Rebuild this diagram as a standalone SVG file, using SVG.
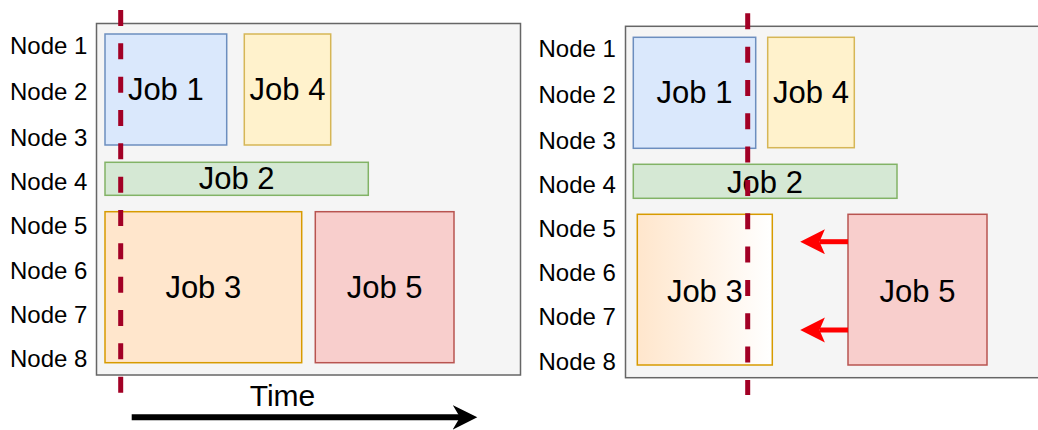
<svg xmlns="http://www.w3.org/2000/svg" width="1038" height="430" viewBox="0 0 1038 430">
<style>
  text { font-family: "Liberation Sans", Arial, sans-serif; fill: #000; }
  .node { font-size: 24px; }
  .job { font-size: 31px; text-anchor: middle; }
  .time { font-size: 30px; text-anchor: middle; }
  .panel { fill: #f5f5f5; stroke: #666666; stroke-width: 1.5; }
  .blue { fill: #dae8fc; stroke: #6c8ebf; stroke-width: 1.5; }
  .yellow { fill: #fff2cc; stroke: #d6b656; stroke-width: 1.5; }
  .green { fill: #d5e8d4; stroke: #82b366; stroke-width: 1.5; }
  .orange { fill: #ffe6cc; stroke: #d79b00; stroke-width: 1.5; }
  .orangegrad { fill: url(#g3); stroke: #d79b00; stroke-width: 1.5; }
  .red { fill: #f8cecc; stroke: #b85450; stroke-width: 1.5; }
  .now { stroke: #a20025; stroke-width: 5; stroke-dasharray: 16 17.33; fill: none; }
  .redarrow { stroke: #ff0000; stroke-width: 5; fill: none; marker-end: url(#headRed); }
  .timearrow { stroke: #000; stroke-width: 6; fill: none; marker-end: url(#headBlack); }
</style>
<defs>
  <linearGradient id="g3" x1="0" y1="0" x2="1" y2="0">
    <stop offset="0" stop-color="#ffe6cc"/>
    <stop offset="1" stop-color="#ffffff"/>
  </linearGradient>
  <marker id="headRed" markerUnits="userSpaceOnUse" markerWidth="26" markerHeight="26" viewBox="0 0 26 26" refX="5.4" refY="12.5" orient="auto">
    <path d="M0,0 L24.7,12.5 L0,25 L5.4,12.5 Z" fill="#ff0000"/>
  </marker>
  <marker id="headBlack" markerUnits="userSpaceOnUse" markerWidth="26" markerHeight="26" viewBox="0 0 26 26" refX="7.3" refY="12.3" orient="auto">
    <path d="M0,0 L24.6,12.3 L0,24.6 L7.3,12.3 Z" fill="#000000"/>
  </marker>
</defs>

<!-- Left panel -->
<g id="left-panel">
  <rect class="panel" x="96.5" y="23.5" width="424" height="351.5"/>
</g>
<g id="left-labels">
  <text class="node" x="10" y="54">Node 1</text>
  <text class="node" x="10" y="100">Node 2</text>
  <text class="node" x="10" y="145.5">Node 3</text>
  <text class="node" x="10" y="189.5">Node 4</text>
  <text class="node" x="10" y="233.5">Node 5</text>
  <text class="node" x="10" y="278.5">Node 6</text>
  <text class="node" x="10" y="322.5">Node 7</text>
  <text class="node" x="10" y="367">Node 8</text>
</g>
<g id="left-job1"><rect class="blue" x="105" y="34" width="121.7" height="111"/><text class="job" x="165.8" y="99.5">Job 1</text></g>
<g id="left-job4"><rect class="yellow" x="244.3" y="34" width="86.4" height="111"/><text class="job" x="287.5" y="99.5">Job 4</text></g>
<g id="left-job2"><rect class="green" x="105" y="162.3" width="263.3" height="33"/><text class="job" x="236.7" y="189">Job 2</text></g>
<g id="left-job3"><rect class="orange" x="105" y="211.7" width="196.7" height="151"/><text class="job" x="203.3" y="297.5">Job 3</text></g>
<g id="left-job5"><rect class="red" x="315.3" y="211.7" width="138.7" height="151"/><text class="job" x="384.7" y="297.5">Job 5</text></g>
<g id="left-time">
  <text class="time" x="282.5" y="406">Time</text>
</g>

<!-- Right panel -->
<g id="right-panel">
  <rect class="panel" x="625.5" y="26.3" width="430" height="351.4"/>
</g>
<g id="right-labels">
  <text class="node" x="538.5" y="57">Node 1</text>
  <text class="node" x="538.5" y="102.5">Node 2</text>
  <text class="node" x="538.5" y="148.5">Node 3</text>
  <text class="node" x="538.5" y="192.7">Node 4</text>
  <text class="node" x="538.5" y="236.7">Node 5</text>
  <text class="node" x="538.5" y="280.7">Node 6</text>
  <text class="node" x="538.5" y="325">Node 7</text>
  <text class="node" x="538.5" y="370">Node 8</text>
</g>
<g id="right-job1"><rect class="blue" x="633.3" y="37.3" width="122.4" height="111"/><text class="job" x="694.5" y="103">Job 1</text></g>
<g id="right-job4"><rect class="yellow" x="767.7" y="37.3" width="86.6" height="110.4"/><text class="job" x="811" y="103">Job 4</text></g>
<g id="right-job2"><rect class="green" x="633.3" y="164.3" width="263.7" height="34"/><text class="job" x="765" y="192.5">Job 2</text></g>
<g id="right-job3"><rect class="orangegrad" x="637.3" y="214.3" width="135" height="150.7"/><text class="job" x="704.8" y="301.5">Job 3</text></g>
<g id="right-job5"><rect class="red" x="848" y="214.3" width="139" height="150.7"/><text class="job" x="917.5" y="301.5">Job 5</text></g>

<!-- Connectors -->
<g id="connectors">
  <line class="now" x1="120.7" y1="10" x2="120.7" y2="393"/>
  <line class="now" x1="747.7" y1="13.3" x2="747.7" y2="395"/>
  <line class="timearrow" x1="131.7" y1="417.3" x2="460" y2="417.3"/>
  <line class="redarrow" x1="848" y1="241.7" x2="819.5" y2="241.7"/>
  <line class="redarrow" x1="848" y1="330" x2="819.5" y2="330"/>
</g>
</svg>
